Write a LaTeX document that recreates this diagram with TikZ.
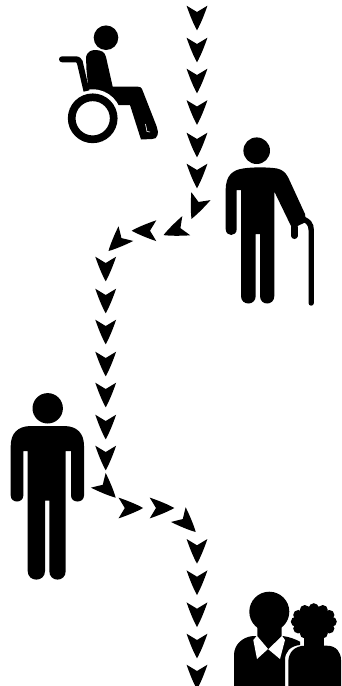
\documentclass[tikz,border=0pt]{standalone}
\tikzset{
  ink/.style={fill=black,draw=none},
  gap/.style={fill=white,draw=none},
}
\newcommand\dart[3]{\fill[shift={(#1,#2)},rotate=#3] (0,12.3) .. controls (-3.6,6) and (-7.6,-4) .. (-10.4,-12.3) -- (0,-6) -- (10.4,-12.3) .. controls (7.6,-4) and (3.6,6) .. (0,12.3) -- cycle;}
\begin{document}
\begin{tikzpicture}[x=1pt,y=-1pt]
\useasboundingbox (0,0) rectangle (341,686);
\clip (0,0) rectangle (341,686);
\fill[white] (0,0) rectangle (341,686);
% darts
\foreach \t in {6,38,69,100.5,133,164} {\dart{197}{\t+12}{0}}
\dart{196.2}{207.5}{-22.5}
\dart{174.9}{230.4}{-67.5}
\dart{144}{230.7}{-90}
\dart{117.2}{242.3}{-45}
\foreach \t in {257,289,320,352,383,415,446} {\dart{105.7}{\t+12}{0}}
\dart{107}{489}{45}
\dart{130.8}{508}{90}
\dart{162}{508}{90}
\dart{187}{523.3}{45}
\foreach \t in {539.3,570.7,602.7,634,665} {\dart{197}{\t+12}{0}}
% wheelchair user
\fill[ink] (106,37.7) circle (12.3);
\fill[ink] (86,57) .. controls (87,52) and (91,50) .. (95,50)
  .. controls (101,50) and (105,52) .. (106,57)
  -- (112.7,86.7) -- (138,86.7) .. controls (140,86.7) and (141.5,87.5) .. (142,89)
  -- (156.5,126) .. controls (158,129) and (158,133) .. (157.5,135)
  .. controls (157,138) and (155,139) .. (152,139) -- (141,139.5)
  -- (130,105) -- (118,105) -- (90,105) -- (86.5,70) -- cycle;
\fill[gap] (92.7,118.3) circle (29);
\draw[line width=7.7,line cap=butt] (92.7,118.3) circle (21);
\draw[line width=6,line cap=round,line join=round] (62,59.3) -- (76,59.3) .. controls (78,59.3) and (79,60) .. (79.5,62);
\draw[line width=6,line cap=butt] (79.5,61) -- (86.5,91);
\draw[white,line width=0.6] (145.5,124) -- (147,131.5) -- (150,132);
% elder with cane
\fill[ink] (256.7,150.7) circle (13.3);
\fill[ink] (225.7,190) .. controls (225.7,175) and (233,170) .. (243,168.5)
  .. controls (252,167) and (268,167) .. (277,168.5)
  .. controls (282,169.5) and (285,172) .. (288,177)
  -- (305,214) -- (306,222) -- (297.5,226) -- (291.5,227) -- (274.3,191.5)
  -- (274.3,296) .. controls (274.3,306) and (260,306) .. (260,296)
  -- (260,234) -- (255.7,234) -- (255.7,296)
  .. controls (255.7,306) and (241,306) .. (241,296)
  -- (241,190) -- (236.7,190) -- (236.7,229)
  .. controls (236.7,237) and (225.7,237) .. (225.7,229) -- cycle;
\draw[line width=5.4,line cap=round] (311.2,303) -- (311.2,230)
  .. controls (311.2,224) and (308,221) .. (304,219.5);
\draw[line width=6.4,line cap=round] (294.3,227) -- (294.3,235.8);
% standing man
\fill[ink] (47.7,408.3) circle (15.2);
\fill[ink] (10.7,446) .. controls (10.7,433) and (18,426.5) .. (30,426)
  -- (65,426) .. controls (77,426.5) and (84,433) .. (84,446)
  -- (84,495.5) .. controls (84,503.5) and (71,503.5) .. (71,495.5)
  -- (71,451) -- (65.7,451)
  -- (65.7,571) .. controls (65.7,582.5) and (49.3,582.5) .. (49.3,571)
  -- (49.3,500.7) -- (45,500.7) -- (45,571)
  .. controls (45,582.5) and (27.7,582.5) .. (27.7,571)
  -- (27.7,451) -- (23.3,451) -- (23.3,495.5)
  .. controls (23.3,503.5) and (10.7,503.5) .. (10.7,495.5) -- cycle;
% couple: woman
\foreach \a in {0,30,...,330}
  {\fill[ink] (313.8,621.7) ++({18*cos(\a)},{-13.5*sin(\a)}) circle (5);}
\fill[ink] (313.8,621.7) circle (16);
\fill[ink] (303.5,630) rectangle (323.5,650);
\fill[ink] (288.3,690) -- (288.3,662) .. controls (288.3,652) and (295,645.7) .. (305,645.7)
  -- (327,645.7) .. controls (336,645.7) and (341,652) .. (341,660) -- (341,690) -- cycle;
% couple: man
\fill[ink] (234,690) -- (234,655) .. controls (234,645) and (242,637) .. (253,636)
  -- (283,636) .. controls (290,637) and (296,639.5) .. (300,641.7)
  -- (300,645) .. controls (290,646) and (285,652) .. (285,660) -- (285,690) -- cycle;
\fill[gap] (253.3,640) -- (257.5,635) -- (268,648) -- (281.5,635) -- (285,640) -- (280,659) -- (268,649) -- (257,659) -- cycle;
\fill[ink] (269.3,611.7) circle (20);
\fill[ink] (257.3,620) -- (257.3,636) -- (268.3,649) -- (281.7,636) -- (281.7,620) -- cycle;
\end{tikzpicture}
\end{document}
